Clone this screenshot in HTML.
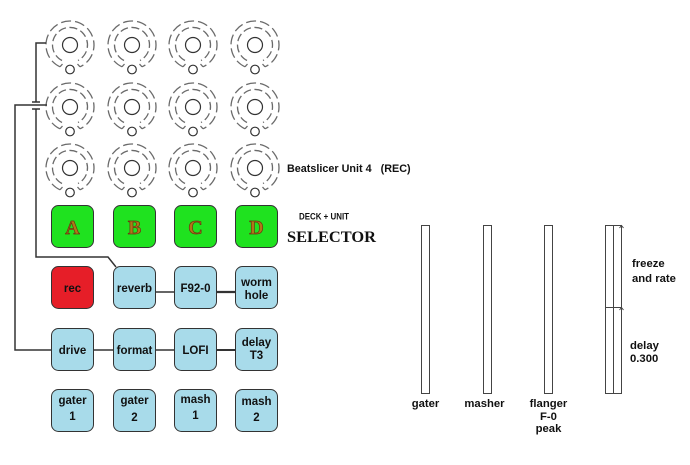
<!DOCTYPE html>
<html>
<head>
<meta charset="utf-8">
<style>
  html,body{margin:0;padding:0;background:#fff;}
  svg{display:block;}
  .lbl{font-family:"Liberation Sans",sans-serif;font-weight:bold;font-size:11.3px;fill:#111;}
  .btn{font-family:"Liberation Sans",sans-serif;font-weight:bold;font-size:11.5px;fill:#111;}
  .let{font-family:"Liberation Serif",serif;font-weight:bold;font-size:20px;fill:#b07818;stroke:#6b3510;stroke-width:0.7;}
</style>
</head>
<body>
<svg width="690" height="465" viewBox="0 0 690 465" xmlns="http://www.w3.org/2000/svg">
  <defs>
    <g id="knob">
      <path d="M -10 21.8 A 24 24 0 1 1 10 21.8" fill="none" stroke="#6a6a6a" stroke-width="1.3" stroke-dasharray="10 4"/>
      <path d="M -10 21.8 L -7.5 19" fill="none" stroke="#6a6a6a" stroke-width="1.3"/>
      <path d="M 10 21.8 L 7.5 19" fill="none" stroke="#6a6a6a" stroke-width="1.3"/>
      <path d="M -8 15.5 A 17.5 17.5 0 1 1 8 15.5" fill="none" stroke="#6a6a6a" stroke-width="1.3" stroke-dasharray="8 3.5"/>
      <circle cx="0" cy="0" r="7.5" fill="none" stroke="#333" stroke-width="1.2"/>
      <circle cx="0" cy="24.5" r="4.3" fill="none" stroke="#333" stroke-width="1.2"/>
    </g>
  </defs>

  <!-- knobs -->
  <use href="#knob" x="70" y="45"/>
  <use href="#knob" x="132" y="45"/>
  <use href="#knob" x="193" y="45"/>
  <use href="#knob" x="255" y="45"/>
  <use href="#knob" x="70" y="107"/>
  <use href="#knob" x="132" y="107"/>
  <use href="#knob" x="193" y="107"/>
  <use href="#knob" x="255" y="107"/>
  <use href="#knob" x="70" y="168"/>
  <use href="#knob" x="132" y="168"/>
  <use href="#knob" x="193" y="168"/>
  <use href="#knob" x="255" y="168"/>

  <!-- connectors left -->
  <g fill="none" stroke="#333" stroke-width="1.5">
    <path d="M 46 43 H 36 V 102"/>
    <path d="M 32 102 H 40"/>
    <path d="M 32 109 H 40"/>
    <path d="M 36 109 V 257 H 108 L 116 267"/>
    <path d="M 47 105 H 15 V 350 H 51"/>
    <path d="M 156 292 H 174"/>
    <path d="M 217 292 H 235" stroke-width="2.2"/>
    <path d="M 94 350 H 113"/>
    <path d="M 156 350 H 174"/>
    <path d="M 217 350 H 235" stroke-width="2"/>
  </g>

  <!-- green selector buttons -->
  <g stroke="#333" stroke-width="1">
    <rect x="51.5" y="205.5" width="42" height="42" rx="7" fill="#1fe21f"/>
    <rect x="113.5" y="205.5" width="42" height="42" rx="7" fill="#1fe21f"/>
    <rect x="174.5" y="205.5" width="42" height="42" rx="7" fill="#1fe21f"/>
    <rect x="235.5" y="205.5" width="42" height="42" rx="7" fill="#1fe21f"/>
  </g>
  <text class="let" x="72.5" y="234" text-anchor="middle">A</text>
  <text class="let" x="134.5" y="234" text-anchor="middle">B</text>
  <text class="let" x="195.5" y="234" text-anchor="middle">C</text>
  <text class="let" x="256.5" y="234" text-anchor="middle">D</text>

  <!-- row 2 -->
  <g stroke="#333" stroke-width="1">
    <rect x="51.5" y="266.5" width="42" height="42" rx="7" fill="#e61e28"/>
    <rect x="113.5" y="266.5" width="42" height="42" rx="7" fill="#a8dbea"/>
    <rect x="174.5" y="266.5" width="42" height="42" rx="7" fill="#a8dbea"/>
    <rect x="235.5" y="266.5" width="42" height="42" rx="7" fill="#a8dbea"/>
    <!-- row 3 -->
    <rect x="51.5" y="328.5" width="42" height="42" rx="7" fill="#a8dbea"/>
    <rect x="113.5" y="328.5" width="42" height="42" rx="7" fill="#a8dbea"/>
    <rect x="174.5" y="328.5" width="42" height="42" rx="7" fill="#a8dbea"/>
    <rect x="235.5" y="328.5" width="42" height="42" rx="7" fill="#a8dbea"/>
    <!-- row 4 -->
    <rect x="51.5" y="389.5" width="42" height="42" rx="7" fill="#a8dbea"/>
    <rect x="113.5" y="389.5" width="42" height="42" rx="7" fill="#a8dbea"/>
    <rect x="174.5" y="389.5" width="42" height="42" rx="7" fill="#a8dbea"/>
    <rect x="235.5" y="389.5" width="42" height="42" rx="7" fill="#a8dbea"/>
  </g>

  <g class="btn" text-anchor="middle">
    <text x="72.5" y="292">rec</text>
    <text x="134.5" y="292">reverb</text>
    <text x="195.5" y="292">F92-0</text>
    <text x="256.5" y="286">worm</text>
    <text x="256.5" y="299">hole</text>

    <text x="72.5" y="354">drive</text>
    <text x="134.5" y="354">format</text>
    <text x="195.5" y="354">LOFI</text>
    <text x="256.5" y="346">delay</text>
    <text x="256.5" y="359">T3</text>

    <text x="72.5" y="404">gater</text>
    <text x="72.5" y="420">1</text>
    <text x="134.5" y="404">gater</text>
    <text x="134.5" y="421">2</text>
    <text x="195.5" y="403">mash</text>
    <text x="195.5" y="419">1</text>
    <text x="256.5" y="405">mash</text>
    <text x="256.5" y="421">2</text>
  </g>

  <!-- titles -->
  <text class="lbl" x="287" y="172" style="font-size:10.8px">Beatslicer Unit 4 &#160; (REC)</text>
  <text class="lbl" x="299" y="219.5" style="font-size:9px" textLength="50" lengthAdjust="spacingAndGlyphs">DECK + UNIT</text>
  <text x="287" y="242" style="font-family:'Liberation Serif',serif;font-weight:bold;font-size:16px;fill:#111" textLength="89" lengthAdjust="spacingAndGlyphs">SELECTOR</text>

  <!-- right side bars -->
  <g fill="#fff" stroke="#444" stroke-width="1">
    <rect x="421.5" y="225.5" width="8" height="168"/>
    <rect x="483.5" y="225.5" width="8" height="168"/>
    <rect x="544.5" y="225.5" width="8" height="168"/>
    <rect x="605.5" y="225.5" width="8" height="168"/>
    <rect x="613.5" y="225.5" width="8" height="168"/>
    <path d="M 605 307.5 H 622" fill="none"/>
    <path d="M 619.5 228 L 621.5 225.5 L 623.5 228" fill="none"/>
    <path d="M 619.5 310 L 621.5 307.5 L 623.5 310" fill="none"/>
  </g>

  <g class="lbl">
    <text x="425.5" y="407" text-anchor="middle">gater</text>
    <text x="484.5" y="407" text-anchor="middle">masher</text>
    <text x="548.5" y="407" text-anchor="middle">flanger</text>
    <text x="548.5" y="420" text-anchor="middle">F-0</text>
    <text x="548.5" y="432" text-anchor="middle">peak</text>
    <text x="632" y="267">freeze</text>
    <text x="632" y="282">and rate</text>
    <text x="630" y="349">delay</text>
    <text x="630" y="362">0.300</text>
  </g>
</svg>
</body>
</html>
